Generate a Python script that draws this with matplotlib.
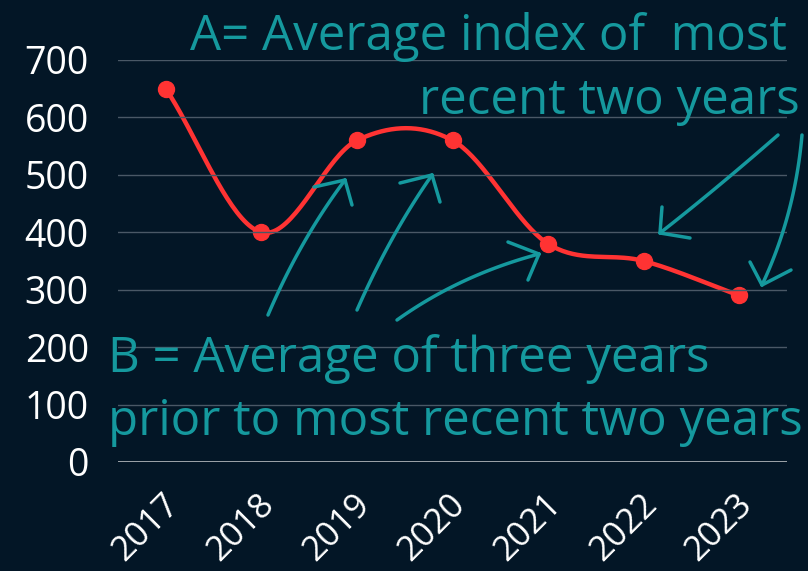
import numpy as np
import matplotlib
matplotlib.use("Agg")
from matplotlib import pyplot as plt

years = ["2017", "2018", "2019", "2020", "2021", "2022", "2023"]
index_values = [650, 400, 560, 560, 380, 350, 290]
y_ticks = [0, 100, 200, 300, 400, 500, 600, 700]

bg = "#031626"
teal = "#15999e"
red = "#ff3333"

plt.rcParams["font.family"] = ["Open Sans", "DejaVu Sans"]

fig = plt.figure(figsize=(8.08, 5.71), dpi=100, facecolor=bg)
ax = fig.add_axes([118 / 808, 1 - 462 / 571, 669 / 808, 402 / 571])
ax.set_facecolor(bg)

# smooth line through the points (catmull-rom style)
xs = np.arange(len(index_values))
ys = np.array(index_values, dtype=float)
tang = np.gradient(ys)
cx, cy = [], []
for i in range(len(ys) - 1):
    t = np.linspace(0, 1, 40)
    h00 = 2 * t**3 - 3 * t**2 + 1
    h10 = t**3 - 2 * t**2 + t
    h01 = -2 * t**3 + 3 * t**2
    h11 = t**3 - t**2
    cx.extend(xs[i] + t)
    cy.extend(h00 * ys[i] + h10 * tang[i] + h01 * ys[i + 1] + h11 * tang[i + 1])
ax.plot(cx, cy, color=red, linewidth=3.2, zorder=2, solid_capstyle="round")
ax.plot(xs, ys, "o", color=red, markersize=11.5, zorder=2, clip_on=False)

ax.set_xlim(-0.5, len(years) - 0.5)
ax.set_ylim(0, 700)
ax.set_yticks(y_ticks)
ax.set_xticks(xs)
ax.set_xticklabels(years)
for s in ax.spines.values():
    s.set_visible(False)
ax.tick_params(length=0, colors="white")
ax.tick_params(axis="y", pad=21, labelsize=27)
ax.tick_params(axis="x", pad=27, labelsize=25)
for lab in ax.get_xticklabels():
    lab.set_rotation(45)
    lab.set_ha("right")
    lab.set_va("center")
    lab.set_rotation_mode("anchor")
    lab.set_transform(lab.get_transform() + matplotlib.transforms.ScaledTranslation(8 / 100, 0, fig.dpi_scale_trans))
for yv in y_ticks[1:]:
    ax.axhline(yv, color="#4a5866", linewidth=1, zorder=3)
ax.axhline(0, color="#b8bcc0", linewidth=1.2, zorder=3)

def fp(px, py):
    return (px / 808, 1 - py / 571)

txt = dict(color=teal, fontsize=35.5, va="baseline")
fig.text(*fp(787, 50), "A= Average index of  most", ha="right", **txt)
fig.text(*fp(800, 114), "recent two years", ha="right", **txt)
fig.text(*fp(108, 372), "B = Average of three years", ha="left", zorder=1, **txt)
fig.text(*fp(108, 435), "prior to most recent two years", ha="left", zorder=1, **txt)

# hand drawn arrows: tail, control, tip, head1, head2 (pixel positions)
arrows = [
    [(268, 315), (300, 240), (345, 180), (314, 187), (352, 205)],
    [(357, 310), (390, 235), (432, 175), (400, 183), (440, 202)],
    [(397, 320), (460, 275), (539, 254), (508, 242), (528, 280)],
    [(778, 135), (715, 190), (660, 233), (662, 207), (690, 238)],
    [(802, 135), (795, 215), (762, 285), (750, 262), (791, 270)],
]
for tail, ctrl, tip, h1, h2 in arrows:
    t = np.linspace(0, 1, 30)
    bx = (1 - t) ** 2 * tail[0] + 2 * (1 - t) * t * ctrl[0] + t**2 * tip[0]
    by = (1 - t) ** 2 * tail[1] + 2 * (1 - t) * t * ctrl[1] + t**2 * tip[1]
    fig.lines.append(plt.Line2D(bx / 808, 1 - by / 571, transform=fig.transFigure,
                                color=teal, linewidth=2.5, solid_capstyle="round"))
    for h in (h1, h2):
        fig.lines.append(plt.Line2D([h[0] / 808, tip[0] / 808], [1 - h[1] / 571, 1 - tip[1] / 571],
                                    transform=fig.transFigure, color=teal, linewidth=2.5,
                                    solid_capstyle="round"))

fig.savefig("out.png", dpi=100, facecolor=bg)
